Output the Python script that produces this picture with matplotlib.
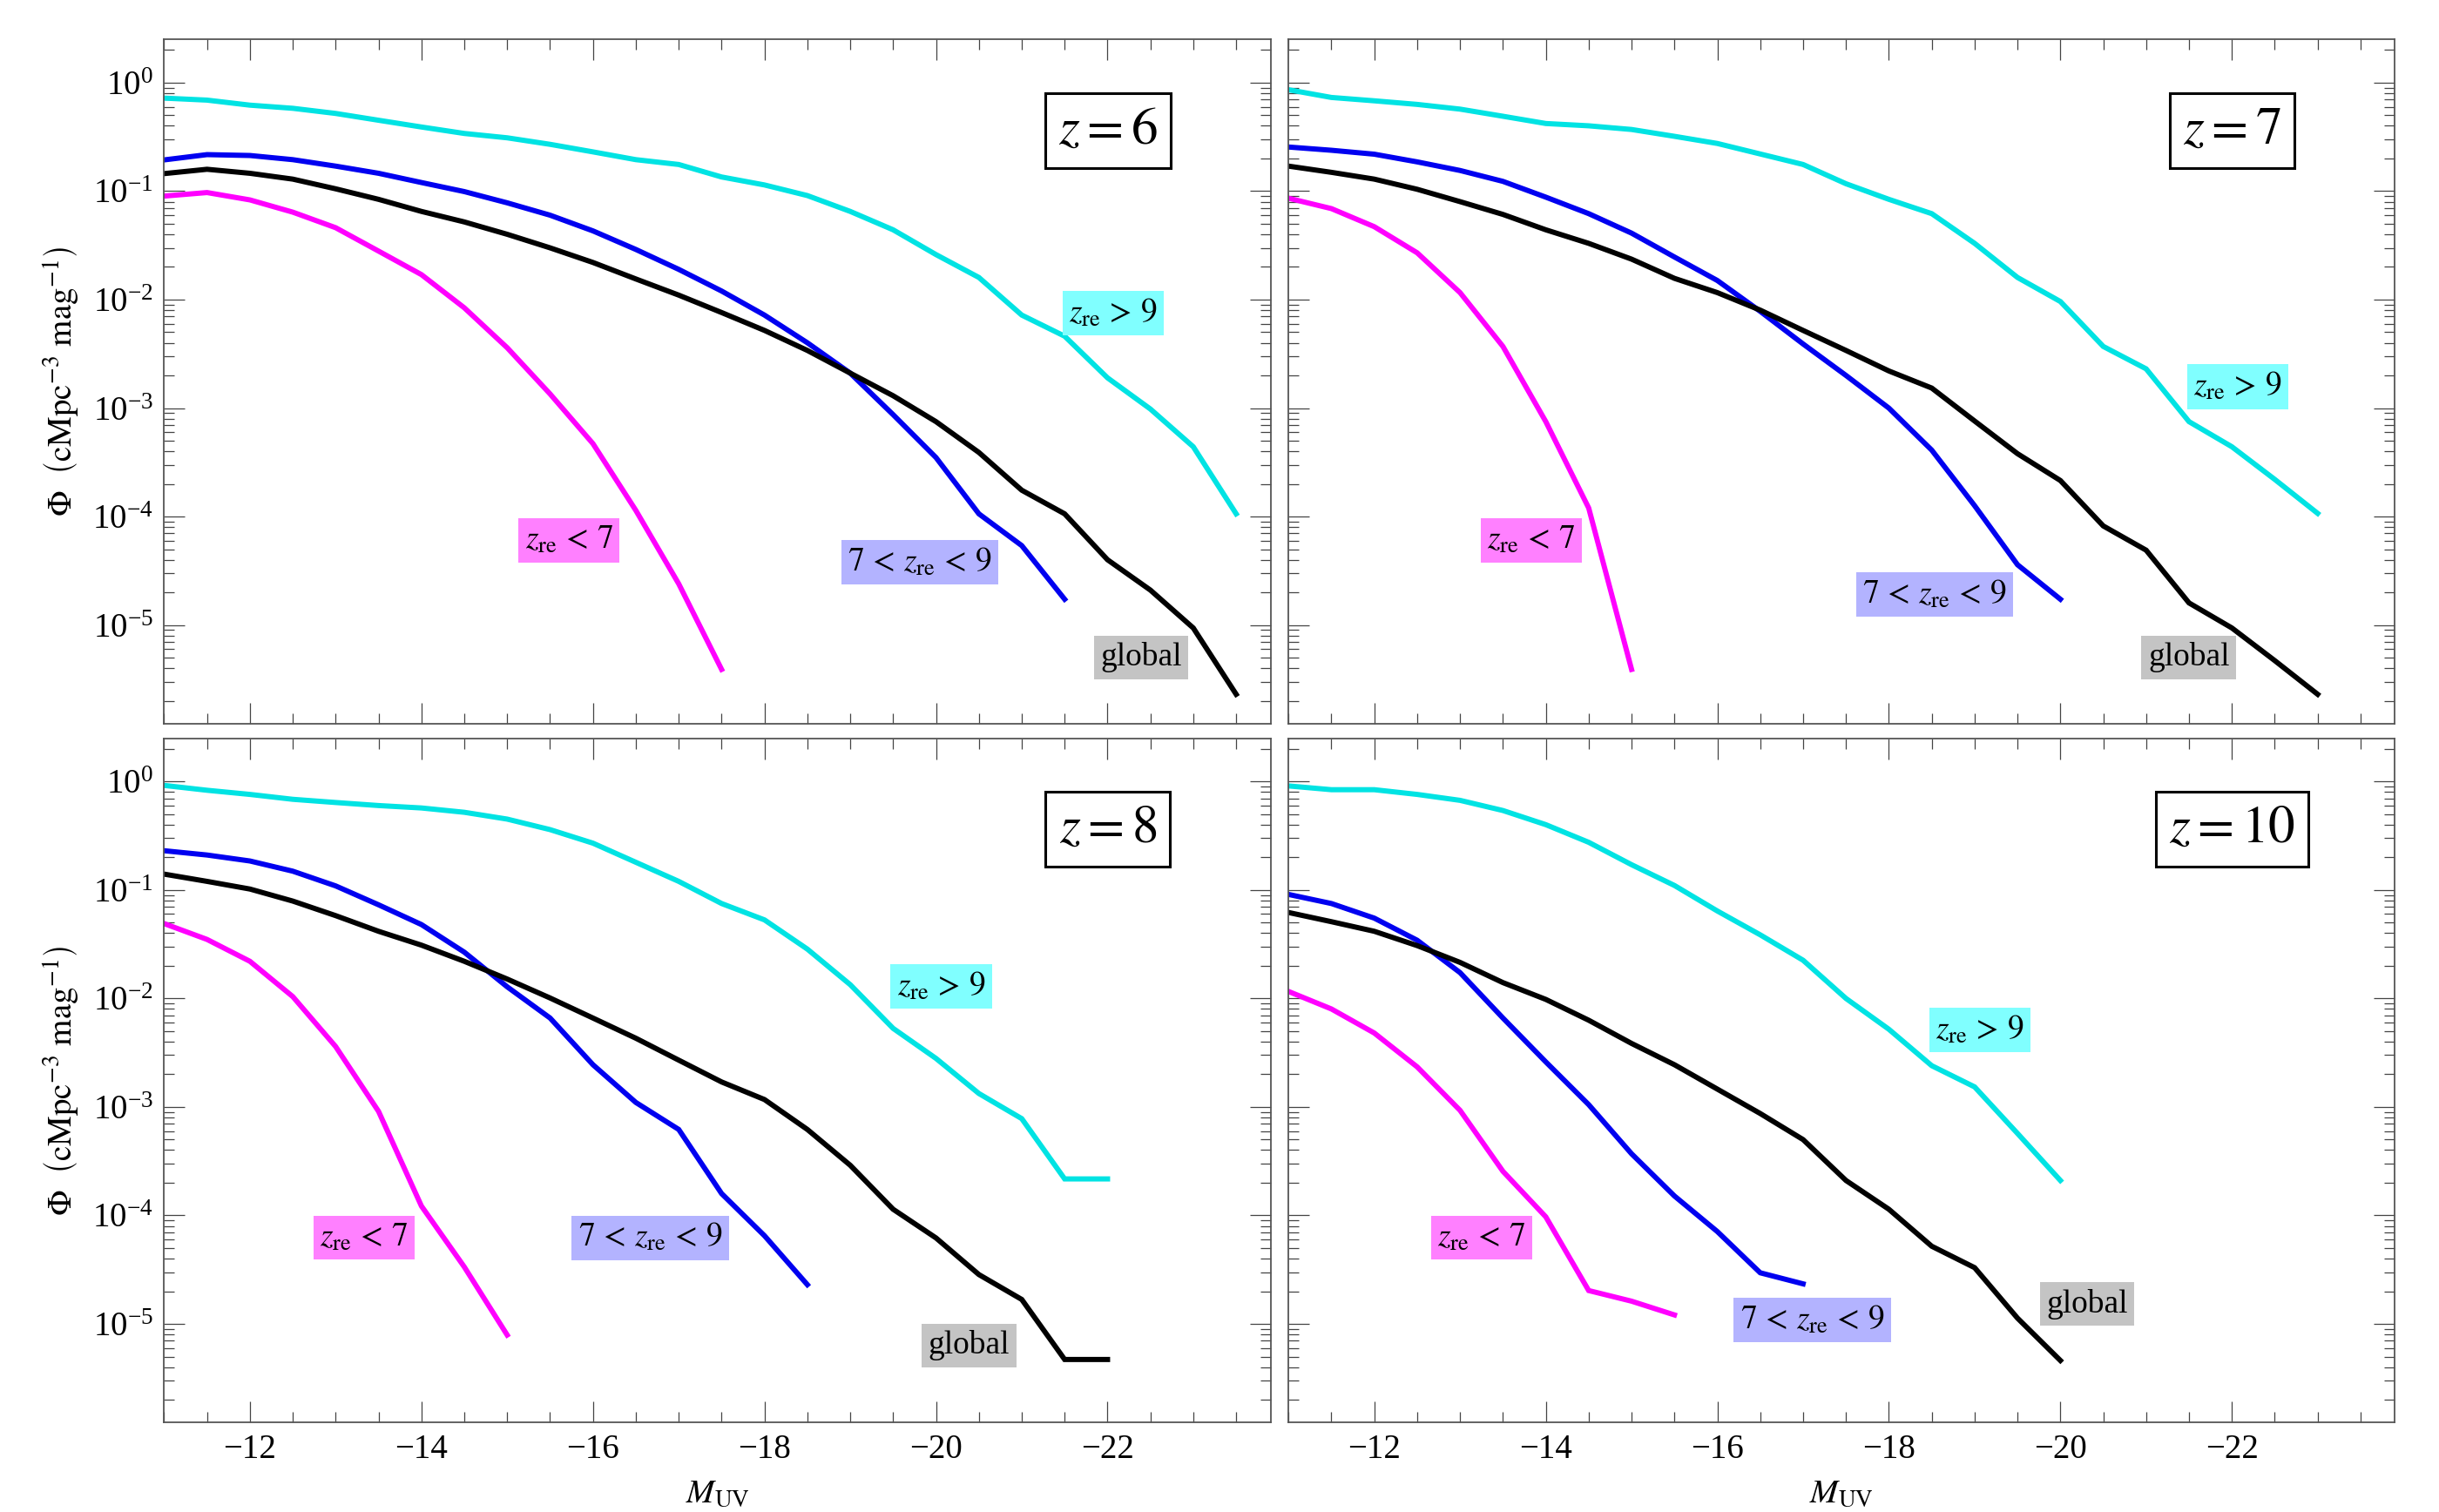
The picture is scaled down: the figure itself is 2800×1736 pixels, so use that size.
import matplotlib
matplotlib.use('Agg')
import matplotlib.pyplot as plt
from matplotlib.ticker import MultipleLocator, LogLocator, NullFormatter

plt.rcParams['font.family'] = ['Liberation Serif', 'DejaVu Serif']
plt.rcParams['mathtext.fontset'] = 'stix'

# magnitude bins, shared by all series (each series starts at -11 and stops early)
mags = [-11.0, -11.5, -12.0, -12.5, -13.0, -13.5, -14.0, -14.5, -15.0, -15.5,
        -16.0, -16.5, -17.0, -17.5, -18.0, -18.5, -19.0, -19.5, -20.0, -20.5,
        -21.0, -21.5, -22.0, -22.5, -23.0, -23.5]

# z = 6
phi_z6_high = [0.72, 0.69, 0.62, 0.58, 0.52, 0.45, 0.39, 0.34, 0.31, 0.27, 0.23, 0.195,
               0.176, 0.135, 0.114, 0.091, 0.065, 0.044, 0.026, 0.016, 0.0072, 0.0046,
               0.0019, 0.00098, 0.00044, 0.000106]
phi_z6_mid = [0.194, 0.217, 0.213, 0.195, 0.17, 0.146, 0.12, 0.099, 0.078, 0.060, 0.043,
              0.029, 0.019, 0.012, 0.0072, 0.004, 0.0021, 0.00087, 0.00035, 0.000106,
              5.4e-5, 1.73e-5]
phi_z6_global = [0.145, 0.159, 0.146, 0.129, 0.105, 0.084, 0.065, 0.052, 0.040, 0.030,
                 0.022, 0.0155, 0.011, 0.0076, 0.0052, 0.0034, 0.0021, 0.0013, 0.00075,
                 0.00039, 0.000175, 0.000106, 4.0e-5, 2.1e-5, 9.4e-6, 2.3e-6]
phi_z6_low = [0.090, 0.097, 0.083, 0.064, 0.046, 0.028, 0.017, 0.0084, 0.0036, 0.00135,
              0.00047, 0.000114, 2.4e-5, 3.9e-6]

# z = 7
phi_z7_high = [0.86, 0.73, 0.68, 0.63, 0.57, 0.49, 0.42, 0.40, 0.37, 0.32, 0.275, 0.22,
               0.176, 0.117, 0.084, 0.062, 0.033, 0.016, 0.0096, 0.0037, 0.0023, 0.00075,
               0.00044, 0.00022, 0.000107]
phi_z7_mid = [0.255, 0.238, 0.219, 0.186, 0.155, 0.123, 0.088, 0.062, 0.041, 0.0247, 0.015,
              0.0078, 0.0039, 0.002, 0.001, 0.00041, 0.000126, 3.6e-5, 1.73e-5]
phi_z7_global = [0.17, 0.149, 0.129, 0.104, 0.080, 0.061, 0.044, 0.033, 0.0236, 0.0157,
                 0.0116, 0.008, 0.0052, 0.0034, 0.0022, 0.00153, 0.00076, 0.00038,
                 0.000215, 8.2e-5, 4.9e-5, 1.6e-5, 9.4e-6, 4.7e-6, 2.3e-6]
phi_z7_low = [0.086, 0.069, 0.047, 0.027, 0.0116, 0.0037, 0.00075, 0.00012, 3.9e-6]

# z = 8
phi_z8_high = [0.92, 0.83, 0.76, 0.685, 0.64, 0.60, 0.57, 0.52, 0.45, 0.36, 0.27, 0.18,
               0.12, 0.075, 0.053, 0.0285, 0.0134, 0.0053, 0.0028, 0.00133, 0.00078,
               0.000217, 0.000217]
phi_z8_mid = [0.23, 0.21, 0.185, 0.149, 0.109, 0.073, 0.048, 0.0267, 0.0128, 0.0066,
              0.00245, 0.0011, 0.00062, 0.000159, 6.5e-5, 2.3e-5]
phi_z8_global = [0.14, 0.12, 0.102, 0.079, 0.058, 0.0416, 0.031, 0.022, 0.0151, 0.0101,
                 0.0066, 0.0043, 0.0027, 0.0017, 0.00117, 0.00062, 0.00029, 0.000114,
                 6.2e-5, 2.85e-5, 1.68e-5, 4.7e-6, 4.7e-6]
phi_z8_low = [0.049, 0.035, 0.022, 0.0104, 0.0036, 0.00091, 0.000122, 3.35e-5, 7.9e-6]

# z = 10
phi_z10_high = [0.91, 0.84, 0.84, 0.76, 0.67, 0.54, 0.40, 0.275, 0.171, 0.11, 0.064,
                0.0386, 0.0225, 0.010, 0.0052, 0.0024, 0.00153, 0.00057, 0.00021]
phi_z10_mid = [0.091, 0.075, 0.055, 0.0344, 0.0173, 0.0066, 0.0026, 0.00105, 0.00037,
               0.000151, 7.1e-5, 2.96e-5, 2.34e-5]
phi_z10_global = [0.062, 0.051, 0.0416, 0.0307, 0.0215, 0.014, 0.0098, 0.0063, 0.00385,
                  0.00245, 0.00146, 0.00087, 0.0005, 0.00021, 0.000114, 5.2e-5, 3.3e-5,
                  1.13e-5, 4.6e-6]
phi_z10_low = [0.0116, 0.008, 0.0048, 0.00234, 0.00093, 0.000255, 9.7e-5, 2.03e-5,
               1.62e-5, 1.21e-5]

redshifts = ['6', '7', '8', '10']
series = {
    '6': (phi_z6_low, phi_z6_mid, phi_z6_high, phi_z6_global),
    '7': (phi_z7_low, phi_z7_mid, phi_z7_high, phi_z7_global),
    '8': (phi_z8_low, phi_z8_mid, phi_z8_high, phi_z8_global),
    '10': (phi_z10_low, phi_z10_mid, phi_z10_high, phi_z10_global),
}

labels = [r'$z_{\mathrm{re}}\,<\,7$', r'$7\,<\,z_{\mathrm{re}}\,<\,9$',
          r'$z_{\mathrm{re}}\,>\,9$', 'global']
line_colors = ['#ff00ff', '#0000f0', '#00e3e3', 'black']
box_colors = ['#ff80ff', '#b3b3ff', '#80ffff', '#c4c4c4']

# label spots (axes fraction) per panel: low, mid, high, global
label_pos = {
    '6': [(0.366, 0.268), (0.683, 0.236), (0.858, 0.600), (0.883, 0.097)],
    '7': [(0.2195, 0.268), (0.584, 0.189), (0.858, 0.4926), (0.8137, 0.097)],
    '8': [(0.1806, 0.270), (0.4394, 0.270), (0.7023, 0.6375), (0.7275, 0.1127)],
    '10': [(0.1743, 0.270), (0.4736, 0.150), (0.6248, 0.5737), (0.7218, 0.1733)],
}

fig = plt.figure(figsize=(28, 17.36), dpi=100)
ax_w, ax_h = 0.4536, 0.4526
lefts = [0.0673, 0.5283]
bottoms = [0.5213, 0.0591]

for i, z in enumerate(redshifts):
    row, col = divmod(i, 2)
    ax = fig.add_axes([lefts[col], bottoms[row], ax_w, ax_h])

    for vals, c in zip(series[z], line_colors):
        ax.plot(mags[:len(vals)], vals, color=c, lw=4.3, solid_joinstyle='miter')

    ax.set_yscale('log')
    ax.set_xlim(-11, -23.9)
    ax.set_ylim(1.23e-6, 2.5)

    ax.xaxis.set_major_locator(MultipleLocator(2))
    ax.xaxis.set_minor_locator(MultipleLocator(0.5))
    ax.yaxis.set_major_locator(LogLocator(base=10, numticks=20))
    ax.yaxis.set_minor_locator(LogLocator(base=10, subs=range(2, 10), numticks=20))
    ax.yaxis.set_minor_formatter(NullFormatter())
    ax.tick_params(which='both', direction='in', top=True, right=True,
                   color='#444444', width=0.9, labelsize=28)
    ax.tick_params(which='major', length=17, pad=9)
    ax.tick_params(which='minor', length=8.5)
    for sp in ax.spines.values():
        sp.set_color('#555555')
        sp.set_linewidth(1.3)

    if row == 0:
        ax.tick_params(labelbottom=False)
    else:
        ax.set_xlabel(r'$M_{\mathrm{UV}}$', fontsize=28, labelpad=10)
    if col == 1:
        ax.tick_params(labelleft=False)
    else:
        ax.set_ylabel(r'$\Phi\ \ \left(\mathrm{cMpc}^{-3}\ \mathrm{mag}^{-1}\right)$',
                      fontsize=28, labelpad=10)

    for (fx, fy), txt, bc in zip(label_pos[z], labels, box_colors):
        ax.text(fx, fy, txt, transform=ax.transAxes, ha='center', va='center',
                fontsize=27, zorder=5,
                bbox=dict(boxstyle='square,pad=0.2', fc=bc, ec='none'))

    ax.text(0.853, 0.867, r'$z = %s$' % z, transform=ax.transAxes,
            ha='center', va='center', fontsize=44, zorder=5,
            bbox=dict(boxstyle='square,pad=0.25', fc='white', ec='black', lw=2.2))

fig.savefig('out.png', dpi=100)
